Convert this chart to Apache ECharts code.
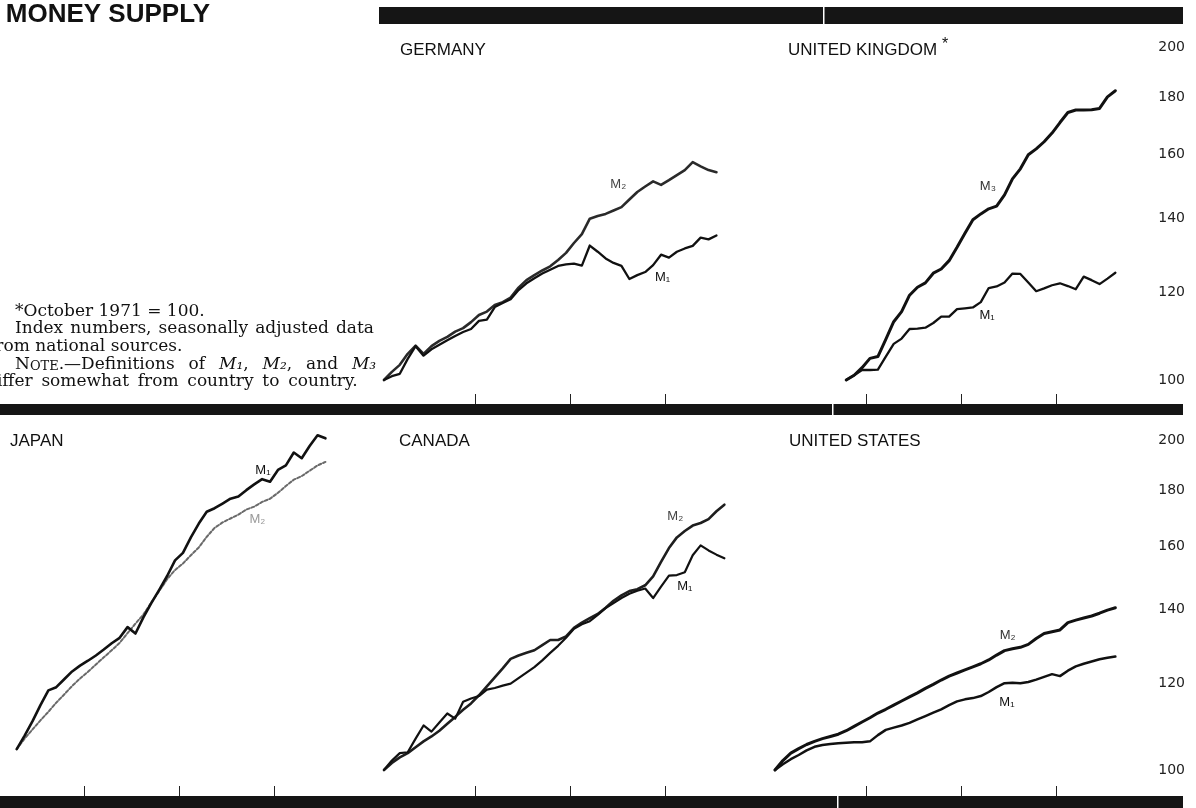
<!DOCTYPE html>
<html>
<head>
<meta charset="utf-8">
<title>Money Supply</title>
<script src="https://cdn.jsdelivr.net/npm/echarts@6/dist/echarts.min.js"></script>
<style>
  html, body { margin: 0; padding: 0; background: #ffffff; }
  #chart { width: 1196px; height: 808px; }
</style>
</head>
<body>
<div id="chart"></div>
<script>
// Monthly index numbers; month 0 = January 1971, each value plotted mid-month.
const indexTicks = [100, 120, 140, 160, 180, 200];
const yearTicks = [12, 24, 36];          // January 1972, 1973, 1974

const germanyStart = 0;
const germanyM1 = [100, 100.8, 101.3, 104.5, 107.3, 105.2, 106.6, 107.6, 108.6, 109.6, 110.5, 111.2,
  113.1, 113.4, 116.4, 117.4, 118.3, 120.6, 122.3, 123.6, 124.8, 125.8, 126.8, 127.2,
  127.4, 126.9, 132.3, 130.6, 128.8, 127.6, 126.8, 123.4, 124.4, 125.2, 127.0, 129.8,
  129.0, 130.6, 131.5, 132.2, 134.5, 134.0, 135.1];
const germanyM2 = [100, 101.7, 103.2, 105.6, 107.4, 105.6, 107.3, 108.5, 109.4, 110.6, 111.4, 112.8,
  114.5, 115.3, 116.9, 117.6, 118.7, 121.2, 123.1, 124.4, 125.6, 126.7, 128.4, 130.3,
  133.0, 135.5, 139.9, 140.7, 141.3, 142.3, 143.3, 145.6, 147.9, 149.6, 151.2, 150.1,
  151.6, 153.2, 154.8, 157.4, 156.0, 154.8, 154.1];

const ukStart = 9;                        // October 1971 = 100
const ukM1 = [100, 101.0, 102.1, 102.1, 102.2, 105.0, 107.8, 109.0, 111.2, 111.3, 111.5, 112.6,
  114.1, 114.1, 115.9, 116.1, 116.3, 117.6, 121.1, 121.5, 122.5, 124.8, 124.7, 122.5,
  120.3, 121.0, 121.8, 122.3, 121.6, 120.8, 124.0, 123.1, 122.1, 123.5, 125.0];
const ukM3 = [100, 101.0, 102.6, 104.6, 105.0, 108.8, 112.9, 115.3, 119.3, 121.3, 122.4, 124.9,
  126.0, 128.2, 131.8, 135.7, 139.6, 141.3, 142.8, 143.6, 147.0, 152.0, 155.2, 159.8,
  161.8, 164.2, 167.2, 170.9, 174.5, 175.4, 175.4, 175.5, 176.0, 180.3, 182.6];

const japanStart = 3;
const japanM1 = [104.5, 107.5, 110.8, 114.6, 118.2, 119.0, 121.0, 123.0, 124.5, 125.8,
  127.2, 128.8, 130.5, 132.0, 135.0, 133.2, 137.8, 142.0, 146.0, 150.3,
  155.3, 157.8, 163.0, 167.8, 172.0, 173.3, 175.0, 176.8, 177.6, 180.0,
  182.2, 184.2, 183.2, 187.8, 189.6, 194.8, 192.5, 197.5, 202.0, 200.7];
const japanM2 = [104.5, 106.8, 108.9, 111.0, 113.0, 115.2, 117.2, 119.3, 121.2, 122.9,
  124.8, 126.7, 128.6, 130.6, 133.3, 136.0, 138.6, 142.2, 145.6, 149.3,
  152.2, 154.3, 157.0, 159.6, 163.2, 166.3, 168.2, 169.6, 171.0, 172.8,
  173.9, 175.6, 176.8, 179.0, 181.6, 184.0, 185.4, 187.5, 189.6, 191.0];

const canadaStart = 0;
const canadaM1 = [100, 102.0, 103.6, 103.8, 106.8, 109.8, 108.4, 110.5, 112.6, 111.4, 115.4, 116.2,
  116.8, 118.4, 118.8, 119.4, 119.9, 121.3, 122.7, 124.1, 125.9, 127.9, 129.8, 132.0,
  134.5, 135.8, 136.7, 138.5, 140.5, 142.0, 143.5, 144.8, 145.7, 146.4, 143.5, 147.0,
  150.4, 150.6, 151.5, 157.0, 160.3, 158.6, 157.2, 156.0];
const canadaM2 = [100, 101.5, 102.7, 103.6, 104.9, 106.2, 107.3, 108.6, 110.2, 111.8, 113.5, 115.0,
  117.0, 119.2, 121.5, 123.8, 126.3, 127.2, 127.9, 128.6, 130.0, 131.4, 131.4, 132.4,
  134.8, 136.3, 137.6, 138.8, 140.6, 142.7, 144.3, 145.6, 146.2, 147.4, 150.2, 154.8,
  159.4, 163.0, 165.2, 167.1, 168.0, 169.4, 172.2, 174.6];

const usStart = 0;
const usM1 = [100, 101.2, 102.3, 103.2, 104.2, 105.0, 105.4, 105.6, 105.8, 105.9, 106.0, 106.0,
  106.2, 107.6, 108.8, 109.3, 109.8, 110.4, 111.2, 112.0, 112.8, 113.6, 114.6, 115.5,
  116.0, 116.3, 116.8, 117.8, 119.0, 120.0, 120.1, 120.0, 120.3, 120.9, 121.6, 122.3,
  121.8, 123.2, 124.3, 125.0, 125.6, 126.2, 126.6, 126.9];
const usM2 = [100, 102.0, 103.6, 104.6, 105.5, 106.2, 106.8, 107.3, 107.8, 108.6, 109.6, 110.6,
  111.6, 112.7, 113.6, 114.6, 115.6, 116.6, 117.6, 118.7, 119.7, 120.8, 121.8, 122.6,
  123.4, 124.2, 125.0, 126.0, 127.3, 128.5, 129.0, 129.4, 130.2, 131.8, 133.2, 133.7,
  134.2, 136.3, 137.0, 137.6, 138.2, 139.0, 139.9, 140.6];

const panelTitles = ['GERMANY', 'UNITED KINGDOM', 'JAPAN', 'CANADA', 'UNITED STATES'];

// ---- layout of the five panels (three across, two rows) ----
// Each panel spans 48 months over 380px; the Japan panel is cut at the
// page's left edge, so its axis begins a little past month 0.
const MONTH_PX = 380 / 48;
const japanCut = 11 / MONTH_PX;
const panelLayout = [
  { left: 380, top: 47,  width: 380, xMin: 0, height: 333, tickOffset: 24, labels: false },  // Germany
  { left: 771, top: 47,  width: 380, xMin: 0, height: 333, tickOffset: 24, labels: true  },  // United Kingdom
  { left: 0,   top: 440, width: 369, xMin: japanCut, height: 330, tickOffset: 26, labels: false },  // Japan
  { left: 380, top: 440, width: 380, xMin: 0, height: 330, tickOffset: 26, labels: false },  // Canada
  { left: 771, top: 440, width: 380, xMin: 0, height: 330, tickOffset: 26, labels: true  }   // United States
];

const INK = '#111111';
const sans = '"Liberation Sans", Arial, Helvetica, sans-serif';
const serif = '"DejaVu Serif", "Liberation Serif", serif';

function monthly(start, values) {
  return values.map((v, k) => [start + k + 0.5, v]);
}

function lineSeries(gi, start, values, style, tag, tagAt, tagColor) {
  return {
    type: 'line',
    xAxisIndex: gi,
    yAxisIndex: gi,
    data: monthly(start, values),
    symbol: 'none',
    clip: false,
    silent: true,
    lineStyle: Object.assign({ color: INK, width: 2.4, join: 'round', cap: 'round' }, style),
    markPoint: {
      silent: true,
      symbol: 'circle',
      symbolSize: 1,
      itemStyle: { color: 'rgba(0,0,0,0)' },
      label: {
        show: true,
        position: 'inside',
        formatter: tag,
        fontFamily: sans,
        fontSize: 13,
        color: tagColor || INK
      },
      data: [{ coord: tagAt }]
    }
  };
}

const grids = panelLayout.map(p => ({ left: p.left, top: p.top, width: p.width, height: p.height }));

const xAxes = panelLayout.map((p, i) => ({
  type: 'value', gridIndex: i, min: p.xMin, max: 48,
  position: 'bottom', offset: p.tickOffset,
  axisLine: { show: false },
  splitLine: { show: false },
  axisLabel: { show: false, customValues: yearTicks },
  axisTick: { show: true, inside: true, length: 10, customValues: yearTicks,
              lineStyle: { color: '#222', width: 1 } }
}));

const yAxes = panelLayout.map((p, i) => ({
  type: 'log', logBase: 10, gridIndex: i, min: 100, max: 200,
  position: 'right',
  axisLine: { show: false },
  axisTick: { show: false },
  splitLine: { show: false },
  minorTick: { show: false },
  axisLabel: {
    show: p.labels, customValues: indexTicks, margin: 34, align: 'right',
    fontFamily: '"DejaVu Sans", sans-serif', fontSize: 14, color: '#222',
    formatter: v => String(Math.round(v))
  }
}));

const series = [
  lineSeries(0, germanyStart, germanyM2, { color: '#2a2a2a', width: 2.6 }, 'M₂', [30.1, 150.1], '#444'),
  lineSeries(0, germanyStart, germanyM1, { width: 2.3 }, 'M₁', [35.7, 123.9]),
  lineSeries(1, ukStart, ukM3, { width: 3 }, 'M₃', [27.4, 149.5], '#333'),
  lineSeries(1, ukStart, ukM1, { width: 2.3 }, 'M₁', [27.3, 114.5]),
  lineSeries(2, japanStart, japanM2, { color: '#6a6a6a', width: 2, type: [3, 2] }, 'M₂', [33.9, 169.1], '#999'),
  lineSeries(2, japanStart, japanM1, { width: 2.6 }, 'M₁', [34.6, 187.8]),
  lineSeries(3, canadaStart, canadaM2, { color: '#1e1e1e', width: 2.6 }, 'M₂', [37.3, 170.3], '#444'),
  lineSeries(3, canadaStart, canadaM1, { width: 2.2 }, 'M₁', [38.5, 147.1]),
  lineSeries(4, usStart, usM2, { width: 3 }, 'M₂', [29.9, 132.8], '#333'),
  lineSeries(4, usStart, usM1, { width: 2.5 }, 'M₁', [29.8, 115.3])
];

// ---- frame bars, headings and notes ----
function bar(x, y, w, h, fill) {
  return { type: 'rect', silent: true, shape: { x: x, y: y, width: w, height: h }, style: { fill: fill } };
}
function label(x, y, text, font, fill, extra) {
  return {
    type: 'text', silent: true, x: x, y: y,
    style: Object.assign({
      text: text, font: font, fill: fill || INK,
      textAlign: 'left', align: 'left',
      textVerticalAlign: 'middle', verticalAlign: 'middle'
    }, extra || {})
  };
}

const titleFont = '17px ' + sans;
const noteFont = '17px ' + serif;
const gapWide = ' \u2002';   // justified word gap
const gapMid = ' \u2009';
const gapThin = ' \u200A';

const graphics = [
  // heavy rules
  bar(379, 7, 804, 17, '#151515'),
  bar(0, 404, 1183, 11, '#151515'),
  bar(0, 796, 1183, 12, '#151515'),
  // fine seams in the rules
  bar(823, 7, 1.5, 17, '#ffffff'),
  bar(832, 404, 1.5, 11, '#ffffff'),
  bar(837, 796, 1.5, 12, '#ffffff'),

  label(210, 15, 'MONEY SUPPLY', 'bold 26px ' + sans, INK, { textAlign: 'right', align: 'right' }),

  label(400, 50, panelTitles[0], titleFont),
  label(788, 50, panelTitles[1], titleFont),
  label(942, 45, '*', '16px ' + sans),
  label(10, 441, panelTitles[2], titleFont),
  label(399, 441, panelTitles[3], titleFont),
  label(789, 441, panelTitles[4], titleFont),

  label(15, 312, '*October 1971 = 100.', noteFont),
  label(15, 329, ['Index', 'numbers,', 'seasonally', 'adjusted', 'data'].join(gapThin), noteFont),
  label(-11, 347, 'from national sources.', noteFont),
  label(15, 365, '{n|N}{sc|OTE}.—Definitions' + gapWide + 'of' + gapWide + '{i|M₁},' + gapWide +
        '{i|M₂},' + gapWide + 'and' + gapWide + '{i|M₃}', noteFont, INK, {
    rich: {
      n:  { fontFamily: serif, fontSize: 17, fill: INK, verticalAlign: 'bottom' },
      sc: { fontFamily: serif, fontSize: 13, fill: INK, verticalAlign: 'bottom' },
      i:  { fontFamily: serif, fontSize: 17, fontStyle: 'italic', fill: INK, verticalAlign: 'bottom' }
    }
  }),
  label(-14, 382, ['differ', 'somewhat', 'from', 'country', 'to', 'country.'].join(gapMid), noteFont)
];

const chart = echarts.init(document.getElementById('chart'), null, { renderer: 'canvas', width: 1196, height: 808 });
chart.setOption({
  animation: false,
  backgroundColor: '#ffffff',
  grid: grids,
  xAxis: xAxes,
  yAxis: yAxes,
  series: series,
  graphic: { elements: graphics }
});
</script>
</body>
</html>
